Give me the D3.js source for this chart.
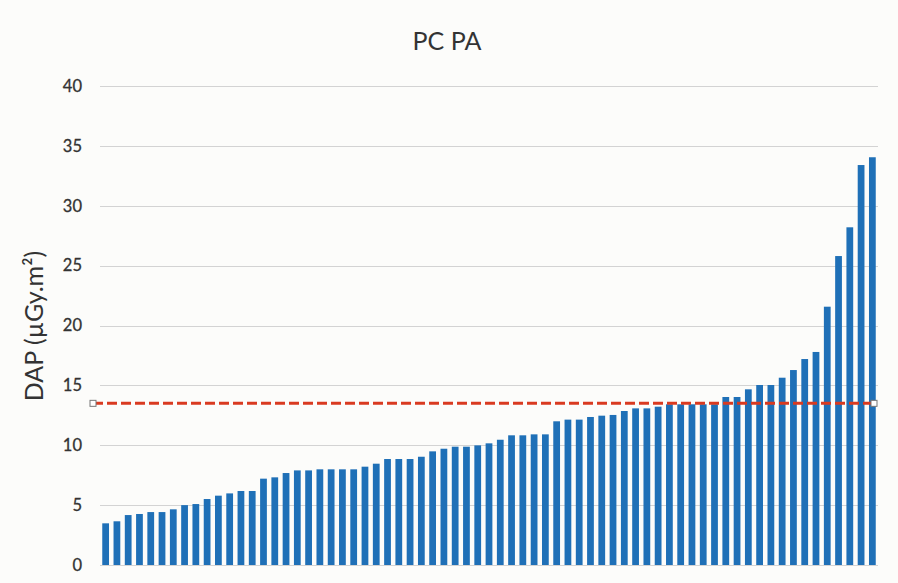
<!DOCTYPE html>
<html><head><meta charset="utf-8">
<script src="https://cdn.jsdelivr.net/npm/d3@7"></script>
<style>
html,body{margin:0;padding:0;background:#fcfcfa;}
svg{display:block;}
</style></head>
<body>
<svg id="chart" width="898" height="583"></svg>
<script>
const title = "PC PA";
const yLabel = "DAP (µGy.m²)";
const dapValues = [
  3.48, 3.65, 4.17, 4.26, 4.42, 4.42, 4.65, 5.0, 5.09, 5.51,
  5.79, 5.98, 6.18, 6.18, 7.21, 7.32, 7.68, 7.9, 7.9, 7.99,
  7.99, 7.99, 7.99, 8.21, 8.46, 8.85, 8.85, 8.85, 9.04, 9.49,
  9.71, 9.88, 9.88, 9.99, 10.16, 10.46, 10.83, 10.83, 10.91, 10.91,
  12.0, 12.14, 12.14, 12.36, 12.47, 12.53, 12.86, 13.08, 13.08, 13.22,
  13.42, 13.42, 13.42, 13.42, 13.42, 14.03, 14.03, 14.67, 15.03, 15.03,
  15.64, 16.28, 17.2, 17.79, 21.57, 25.8, 28.2, 33.4, 34.05
];
const referenceValue = [13.5];
const yTicks = [0, 5, 10, 15, 20, 25, 30, 35, 40];

const svg = d3.select("#chart");
const x = d3.scaleBand()
  .domain(dapValues.map((d, i) => i))
  .range([100, 878])
  .paddingInner(0.4)
  .paddingOuter(0.2);
const y = d3.scaleLinear().domain([0, 40]).range([565, 86]);

// gridlines
svg.append("g").selectAll("line").data(yTicks).join("line")
  .attr("x1", 100).attr("x2", 878)
  .attr("y1", d => Math.round(y(d)) + 0.5).attr("y2", d => Math.round(y(d)) + 0.5)
  .attr("stroke", "#d3d3d3").attr("stroke-width", 1);

// y tick labels
svg.append("g").selectAll("text").data(yTicks).join("text")
  .attr("x", 82).attr("y", d => y(d))
  .attr("dy", "0.35em")
  .attr("text-anchor", "end")
  .attr("font-family", "Lato, 'Open Sans', sans-serif")
  .attr("font-size", 16.5)
  .attr("fill", "#333")
  .attr("stroke", "#333").attr("stroke-width", 0.3)
  .text(d => d);

// bars
svg.append("g").selectAll("rect").data(dapValues).join("rect")
  .attr("x", (d, i) => x(i))
  .attr("width", x.bandwidth())
  .attr("y", d => y(d))
  .attr("height", d => y(0) - y(d))
  .attr("fill", "#1f70b7");

// reference dashed line
const ry = y(referenceValue[0]);
svg.append("line")
  .attr("x1", 93).attr("x2", 874)
  .attr("y1", ry).attr("y2", ry)
  .attr("stroke", "#d93a20").attr("stroke-width", 3)
  .attr("stroke-dasharray", "10,4");
svg.append("g").selectAll("rect").data([93, 874]).join("rect")
  .attr("x", d => d - 3).attr("y", ry - 3)
  .attr("width", 6).attr("height", 6)
  .attr("fill", "#ffffff").attr("stroke", "#777").attr("stroke-width", 1);

// title
svg.append("text")
  .attr("x", 447).attr("y", 50)
  .attr("text-anchor", "middle")
  .attr("font-family", "Lato, 'Open Sans', sans-serif")
  .attr("font-size", 25)
  .attr("fill", "#333")
  .text(title);

// y label
svg.append("text")
  .attr("transform", "translate(43,326) rotate(-90)")
  .attr("text-anchor", "middle")
  .attr("font-family", "Lato, 'Open Sans', sans-serif")
  .attr("font-size", 25)
  .attr("fill", "#333")
  .text(yLabel);
</script>
</body></html>
